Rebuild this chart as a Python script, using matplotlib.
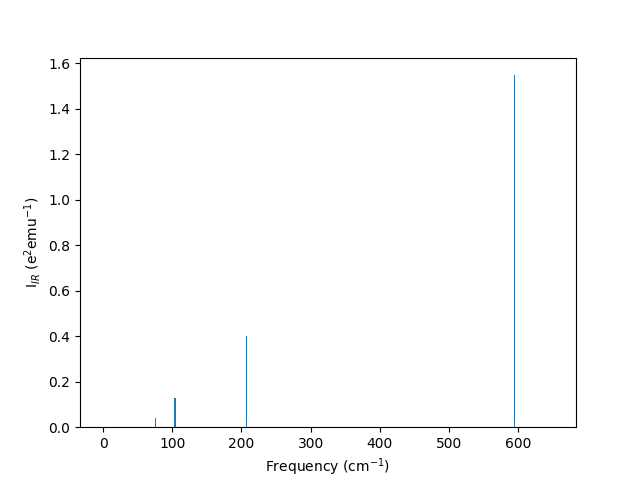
import matplotlib
matplotlib.use('Agg')
import matplotlib.pyplot as plt

# Modos vibracionales (cm^-1) e intensidades IR
freqs = [0, 75.5, 102.8, 104.0, 207, 594.2, 650]
intensities = [0.0, 0.04, 0.128, 0.128, 0.40, 1.547, 0.0]

fig, ax = plt.subplots(figsize=(6.4, 4.8), dpi=100)
ax.bar(freqs, intensities, width=1.5, color='tab:blue')

ax.set_xlabel('Frequency (cm$^{-1}$)')
ax.set_ylabel('I$_{IR}$ (e$^2$emu$^{-1}$)')

fig.savefig('out.png')
